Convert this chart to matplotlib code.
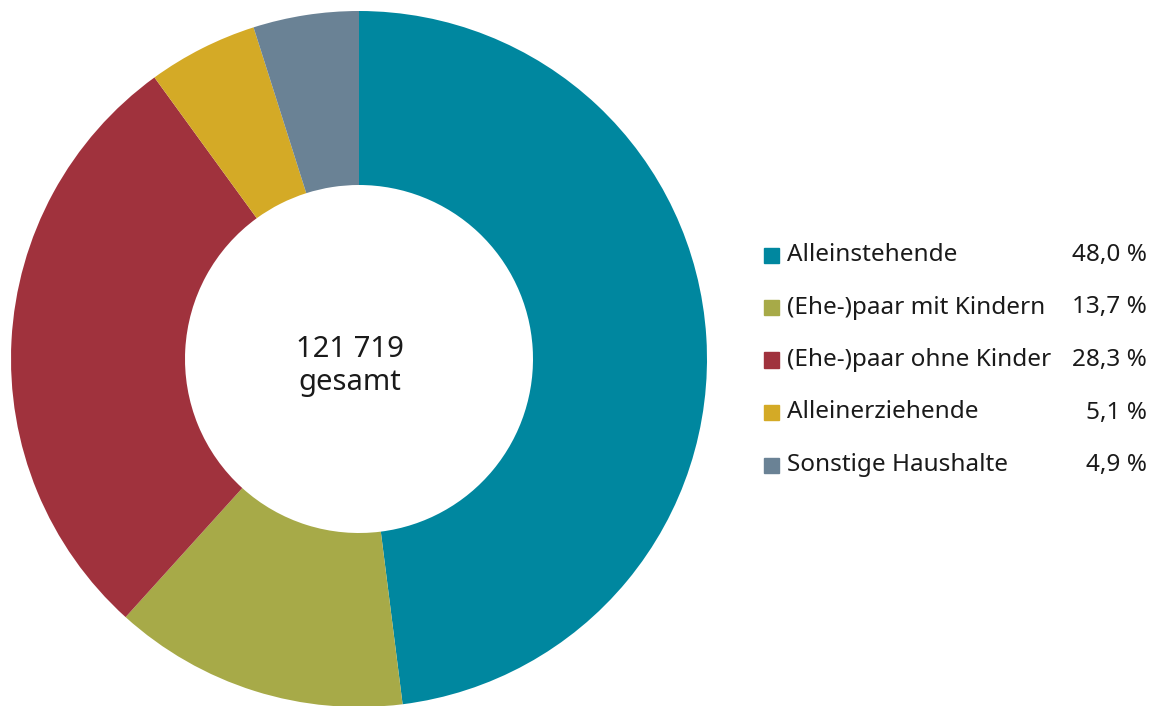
import matplotlib
matplotlib.use("Agg")
import matplotlib.pyplot as plt

categories = ["Alleinstehende", "(Ehe-)paar mit Kindern", "(Ehe-)paar ohne Kinder",
              "Alleinerziehende", "Sonstige Haushalte"]
shares = [48.0, 13.7, 28.3, 5.1, 4.9]
total_label = "121 719\ngesamt"

colors = ["#00879F", "#A7AA48", "#A0323D", "#D4AA26", "#6A8295"]

W, H = 1157, 706
fig = plt.figure(figsize=(W / 100, H / 100), dpi=100)
plt.rcParams['font.family'] = ['Noto Sans', 'DejaVu Sans']

# donut: centre (359, 359) px, outer radius ~348 px
cx, cy, r = 359, 359, 348
ax = fig.add_axes([(cx - r) / W, (H - cy - r) / H, 2 * r / W, 2 * r / H])
ax.pie(shares, colors=colors, startangle=90, counterclock=False,
       radius=1, wedgeprops=dict(width=0.5, linewidth=0))
ax.set_xlim(-1, 1)
ax.set_ylim(-1, 1)
ax.set_aspect("equal")
ax.axis("off")
ax.text(-0.025, -0.02, total_label, ha="center", va="center", fontsize=21,
        linespacing=1.15, color="#1a1a1a")

# legend drawn by hand
y0, dy = 255, 52.5
for i, (lab, val, c) in enumerate(zip(categories, shares, colors)):
    y = 1 - (y0 + i * dy) / H
    fig.patches.append(plt.Rectangle((764 / W, y - 7.5 / H), 15 / W, 15 / H,
                                     transform=fig.transFigure, color=c))
    fig.text(787 / W, y, lab, ha="left", va="center", fontsize=17.5, color="#1a1a1a")
    fig.text(1147 / W, y, f"{val:.1f} %".replace(".", ","), ha="right",
             va="center", fontsize=17.5, color="#1a1a1a")

fig.savefig("out.png", dpi=100)
